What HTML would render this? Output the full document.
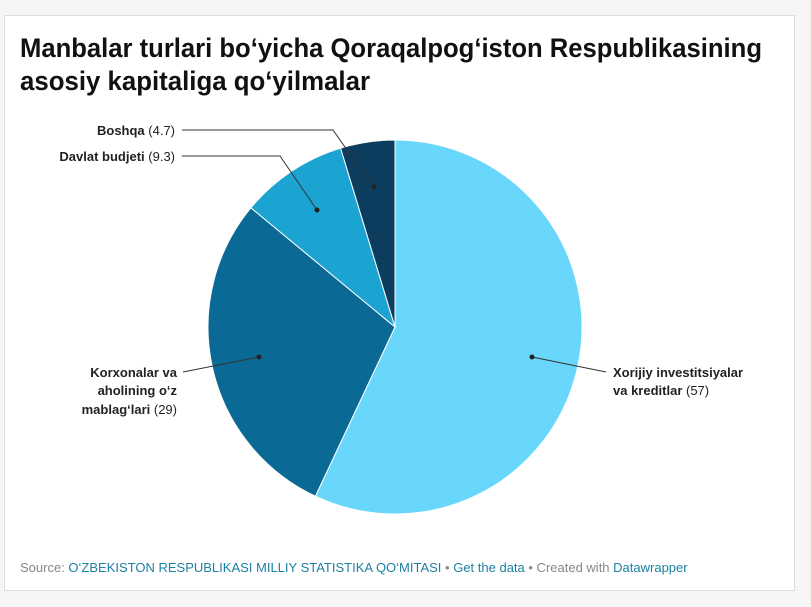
<!DOCTYPE html>
<html><head><meta charset="utf-8"><style>
html,body{margin:0;padding:0;background:#f6f6f6;}
svg{display:block;font-family:"Liberation Sans",sans-serif;}
</style></head><body>
<svg width="811" height="607" viewBox="0 0 811 607">
<rect x="4.5" y="15.5" width="790" height="575" fill="#fff" stroke="#ddd"/>
<text x="20" y="57" font-size="27" font-weight="bold" fill="#111" textLength="742" lengthAdjust="spacingAndGlyphs">Manbalar turlari bo‘yicha Qoraqalpog‘iston Respublikasining</text>
<text x="20" y="90" font-size="27" font-weight="bold" fill="#111" textLength="350" lengthAdjust="spacingAndGlyphs">asosiy kapitaliga qo‘yilmalar</text>
<g id="slices"></g>
<g id="labels">
<path d="M182 130 H333 L373 187" fill="none" stroke="#333" stroke-width="1"/>
<circle cx="374" cy="187" r="2.5" fill="#222"/>
<text x="175" y="135" font-size="13" text-anchor="end" fill="#222"><tspan font-weight="bold">Boshqa</tspan> (4.7)</text>
<path d="M182 156 H280 L317 210" fill="none" stroke="#333" stroke-width="1"/>
<circle cx="317" cy="210" r="2.5" fill="#222"/>
<text x="175" y="161" font-size="13" text-anchor="end" fill="#222"><tspan font-weight="bold">Davlat budjeti</tspan> (9.3)</text>
<path d="M183 372 L259 357" fill="none" stroke="#333" stroke-width="1"/>
<circle cx="259" cy="357" r="2.5" fill="#222"/>
<text font-size="13" text-anchor="end" fill="#222"><tspan x="177" y="377" font-weight="bold">Korxonalar va</tspan><tspan x="177" y="395" font-weight="bold">aholining o‘z</tspan><tspan x="177" y="414"><tspan font-weight="bold">mablag‘lari</tspan> (29)</tspan></text>
<path d="M532 357 L606 372" fill="none" stroke="#333" stroke-width="1"/>
<circle cx="532" cy="357" r="2.5" fill="#222"/>
<text font-size="13" fill="#222"><tspan x="613" y="377" font-weight="bold">Xorijiy investitsiyalar</tspan><tspan x="613" y="395"><tspan font-weight="bold">va kreditlar</tspan> (57)</tspan></text>
</g>
<text x="20" y="572" font-size="13" fill="#888">Source: <tspan fill="#1d81a2">O‘ZBEKISTON RESPUBLIKASI MILLIY STATISTIKA QO‘MITASI</tspan> • <tspan fill="#1d81a2">Get the data</tspan> • Created with <tspan fill="#1d81a2">Datawrapper</tspan></text>
</svg>
<script>
const categories = ["Xorijiy investitsiyalar va kreditlar", "Korxonalar va aholining o‘z mablag‘lari", "Davlat budjeti", "Boshqa"];
const values = [57, 29, 9.3, 4.7];
const colors = ["#69d6fb", "#0a6995", "#1ba3d1", "#0c3d5f"];
const cx = 395, cy = 327, r = 187;
const total = values.reduce((a, b) => a + b, 0);
function angleOf(v) { return v / total * Math.PI * 2; }
function pt(a) { return [cx + r * Math.sin(a), cy - r * Math.cos(a)]; }
const g = document.getElementById('slices');
let start = 0;
values.forEach((v, i) => {
  const end = start + angleOf(v);
  const p0 = pt(start), p1 = pt(end);
  const large = end - start > Math.PI ? 1 : 0;
  const path = document.createElementNS('http://www.w3.org/2000/svg', 'path');
  path.setAttribute('d', `M${cx} ${cy} L${p0[0]} ${p0[1]} A${r} ${r} 0 ${large} 1 ${p1[0]} ${p1[1]} Z`);
  path.setAttribute('fill', colors[i]);
  path.setAttribute('stroke', '#fff');
  path.setAttribute('stroke-width', '1');
  
  
  g.appendChild(path);
  start = end;
});
</script>
</body></html>
